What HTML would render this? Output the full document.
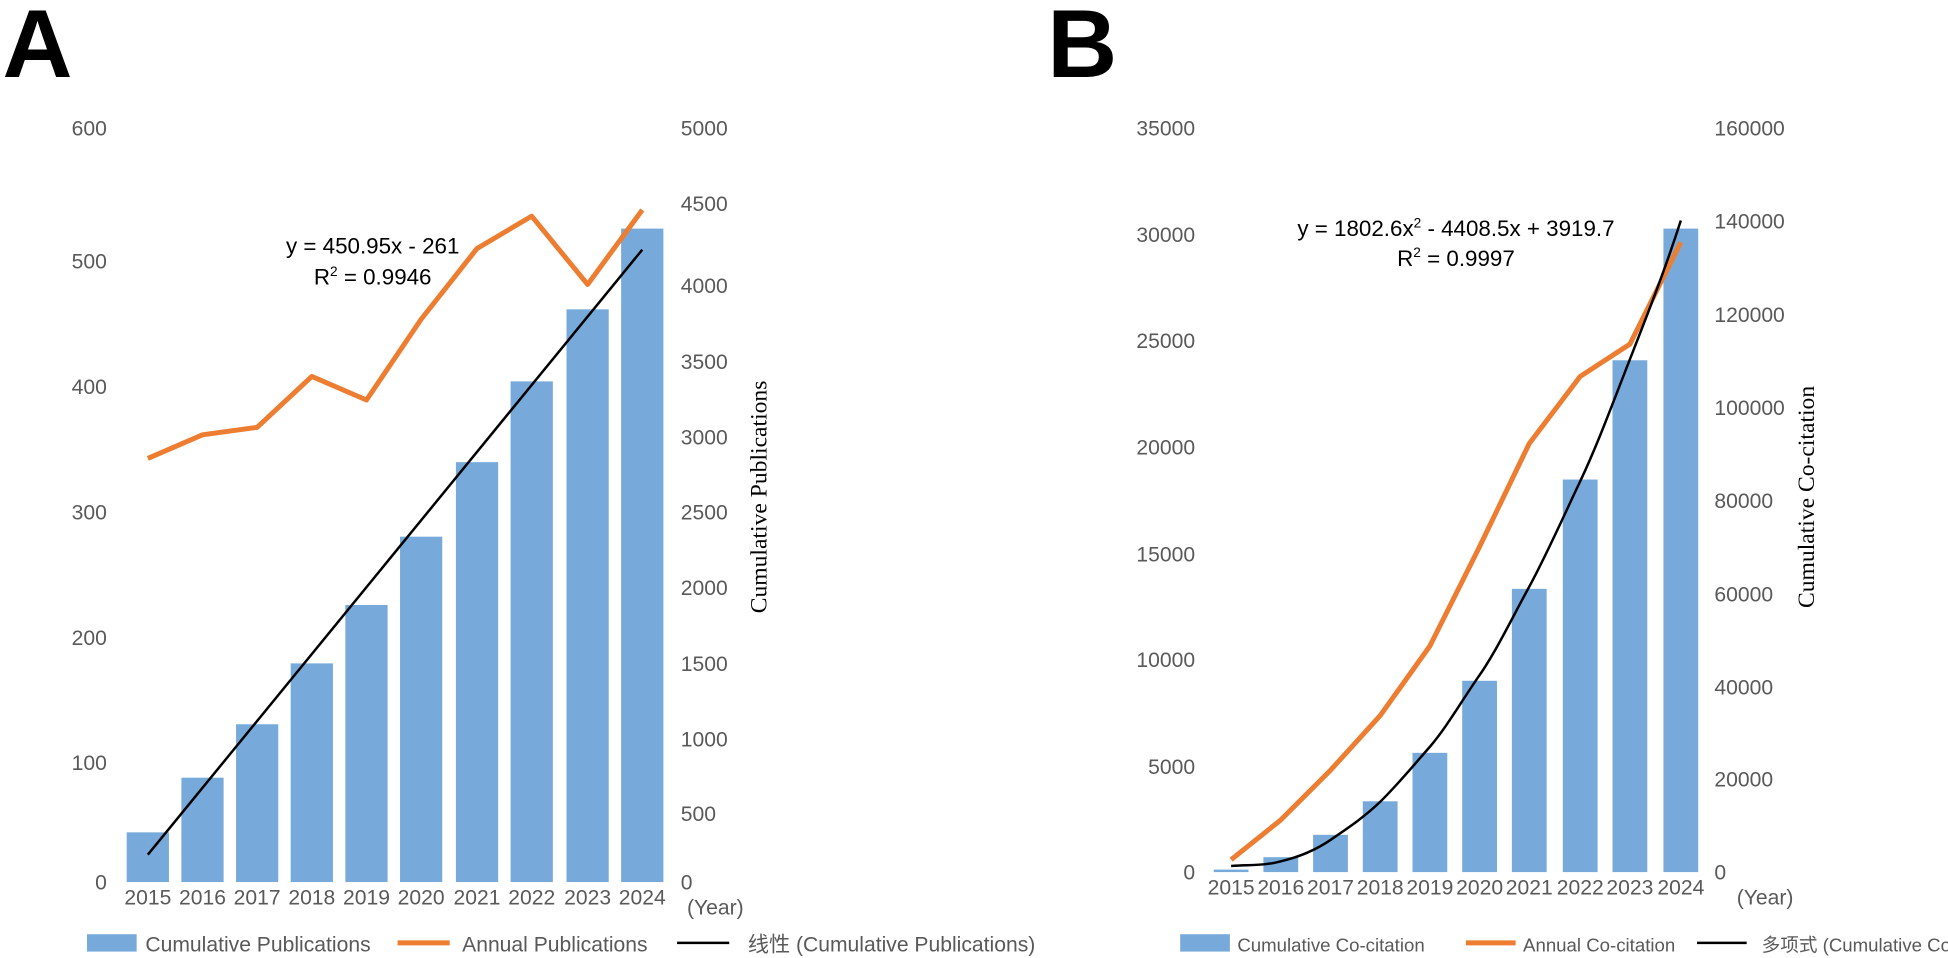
<!DOCTYPE html>
<html><head><meta charset="utf-8"><style>
body{margin:0;background:#fff}
svg{display:block}
text{font-family:"Liberation Sans","Noto Sans CJK SC",sans-serif;fill:#595959;font-size:17px}
.t{fill:#000}
</style></head><body>
<svg width="1948" height="958" xmlns="http://www.w3.org/2000/svg">
<g transform="scale(1.2423)">
<text x="2" y="62" class="t" style="font-size:78px;font-weight:bold">A</text>
<text x="843" y="62" class="t" style="font-size:78px;font-weight:bold">B</text>

<!-- Chart A -->
<g text-anchor="end">
<text x="86" y="109">600</text><text x="86" y="216">500</text><text x="86" y="317">400</text>
<text x="86" y="418">300</text><text x="86" y="519">200</text><text x="86" y="620">100</text><text x="86" y="716">0</text>
</g>
<g>
<text x="548" y="109">5000</text><text x="548" y="170">4500</text><text x="548" y="236">4000</text>
<text x="548" y="297">3500</text><text x="548" y="358">3000</text><text x="548" y="418">2500</text>
<text x="548" y="479">2000</text><text x="548" y="540">1500</text><text x="548" y="601">1000</text>
<text x="548" y="661">500</text><text x="548" y="716">0</text>
</g>
<g fill="#77aadb">
<rect x="102" y="670" width="34" height="40"/><rect x="146" y="626" width="34" height="84"/>
<rect x="190" y="583" width="34" height="127"/><rect x="234" y="534" width="34" height="176"/>
<rect x="278" y="487" width="34" height="223"/><rect x="322" y="432" width="34" height="278"/>
<rect x="367" y="372" width="34" height="338"/><rect x="411" y="307" width="34" height="403"/>
<rect x="456" y="249" width="34" height="461"/><rect x="500" y="184" width="34" height="526"/>
</g>
<polyline fill="none" stroke="#ed7d31" stroke-width="4" stroke-linejoin="round" points="119,369 163,350 207,344 251,303 295,322 339,257 384,200 428,174 473,229 517,169"/>
<line x1="119" y1="688" x2="517" y2="201" stroke="#000" stroke-width="2"/>
<g text-anchor="middle">
<text x="119" y="728">2015</text><text x="163" y="728">2016</text><text x="207" y="728">2017</text><text x="251" y="728">2018</text><text x="295" y="728">2019</text><text x="339" y="728">2020</text><text x="384" y="728">2021</text><text x="428" y="728">2022</text><text x="473" y="728">2023</text><text x="517" y="728">2024</text>
</g>
<text x="553" y="736">(Year)</text>
<text x="300" y="204" class="t" text-anchor="middle" style="font-size:18px">y = 450.95x - 261</text>
<text x="300" y="229" class="t" text-anchor="middle" style="font-size:18px">R<tspan dy="-7" style="font-size:11px">2</tspan><tspan dy="7"> = 0.9946</tspan></text>
<text transform="translate(617,400) rotate(-90)" class="t" text-anchor="middle" style="font-family:'Liberation Serif',serif;font-size:19px">Cumulative Publications</text>
<rect x="70" y="752" width="40" height="14" fill="#77aadb"/>
<text x="117" y="766">Cumulative Publications</text>
<line x1="320" y1="759" x2="362" y2="759" stroke="#ed7d31" stroke-width="4"/>
<text x="372" y="766">Annual Publications</text>
<line x1="545" y1="759" x2="587" y2="759" stroke="#000" stroke-width="2"/>
<text x="602" y="766">线性 (Cumulative Publications)</text>

<!-- Chart B -->
<g text-anchor="end">
<text x="962" y="109">35000</text><text x="962" y="195">30000</text><text x="962" y="280">25000</text>
<text x="962" y="366">20000</text><text x="962" y="452">15000</text><text x="962" y="537">10000</text>
<text x="962" y="623">5000</text><text x="962" y="708">0</text>
</g>
<g>
<text x="1380" y="109">160000</text><text x="1380" y="184">140000</text><text x="1380" y="259">120000</text>
<text x="1380" y="334">100000</text><text x="1380" y="409">80000</text><text x="1380" y="484">60000</text>
<text x="1380" y="559">40000</text><text x="1380" y="633">20000</text><text x="1380" y="708">0</text>
</g>
<g fill="#77aadb">
<rect x="977" y="700" width="28" height="2"/><rect x="1017" y="690" width="28" height="12"/>
<rect x="1057" y="672" width="28" height="30"/><rect x="1097" y="645" width="28" height="57"/>
<rect x="1137" y="606" width="28" height="96"/><rect x="1177" y="548" width="28" height="154"/>
<rect x="1217" y="474" width="28" height="228"/><rect x="1258" y="386" width="28" height="316"/>
<rect x="1298" y="290" width="28" height="412"/><rect x="1339" y="184" width="28" height="518"/>
</g>
<polyline fill="none" stroke="#ed7d31" stroke-width="4" stroke-linejoin="round" points="991,692 1031,660 1071,620 1111,576 1151,520 1191,440 1231,357 1272,303 1312,277 1353,195"/>
<path fill="none" stroke="#000" stroke-width="2" d="M991,697.1 C1005,696 1018,697 1031,693.3 C1045,690 1058,685 1071,676.1 S1098,658 1111,645.4 S1138,616 1151,601.1 S1178,562 1191,543.4 S1218,496 1231,472.2 S1258,417 1272,387.4 S1298,325 1312,289.2 S1340,218 1353,177.5"/>
<g text-anchor="middle">
<text x="991" y="720">2015</text><text x="1031" y="720">2016</text><text x="1071" y="720">2017</text><text x="1111" y="720">2018</text><text x="1151" y="720">2019</text><text x="1191" y="720">2020</text><text x="1231" y="720">2021</text><text x="1272" y="720">2022</text><text x="1312" y="720">2023</text><text x="1353" y="720">2024</text>
</g>
<text x="1398" y="728">(Year)</text>
<text x="1172" y="190" class="t" text-anchor="middle" style="font-size:18px">y = 1802.6x<tspan dy="-7" style="font-size:11px">2</tspan><tspan dy="7"> - 4408.5x + 3919.7</tspan></text>
<text x="1172" y="214" class="t" text-anchor="middle" style="font-size:18px">R<tspan dy="-7" style="font-size:11px">2</tspan><tspan dy="7"> = 0.9997</tspan></text>
<text transform="translate(1460,400) rotate(-90)" class="t" text-anchor="middle" style="font-family:'Liberation Serif',serif;font-size:19px">Cumulative Co-citation</text>
<rect x="950" y="752" width="40" height="14" fill="#77aadb"/>
<text x="996" y="766" style="font-size:15px">Cumulative Co-citation</text>
<line x1="1180" y1="759" x2="1220" y2="759" stroke="#ed7d31" stroke-width="4"/>
<text x="1226" y="766" style="font-size:15px">Annual Co-citation</text>
<line x1="1366" y1="759" x2="1406" y2="759" stroke="#000" stroke-width="2"/>
<text x="1418" y="766" style="font-size:15px">多项式 (Cumulative Co-citation)</text>
</g>
</svg>
</body></html>
